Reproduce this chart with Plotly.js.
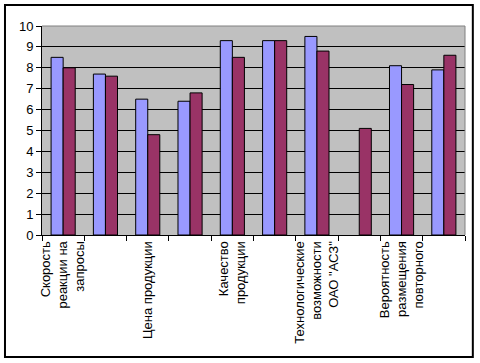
<!DOCTYPE html>
<html>
<head>
<meta charset="utf-8">
<script src="https://cdn.plot.ly/plotly-3.0.1.min.js"></script>
<style>
  html, body { margin: 0; padding: 0; background: #ffffff; }
  #chart { width: 480px; height: 363px; }
</style>
</head>
<body>
<div id="chart"></div>
<script>
// Category positions (10 groups) and their labels (Excel shows every other label)
const categories = [0, 1, 2, 3, 4, 5, 6, 7, 8, 9];
const categoryLabels = [
  "Скорость<br>реакции на<br>запросы",
  "",
  "Цена продукции",
  "",
  "Качество<br>продукции",
  "",
  "Технологические<br>возможности<br>ОАО \"АСЗ\"",
  "",
  "Вероятность<br>размещения<br>повторного",
  ""
];
const series1 = [8.5, 7.7, 6.5, 6.4, 9.3, 9.3, 9.5, null, 8.1, 7.9];
const series2 = [8.0, 7.6, 4.8, 6.8, 8.5, 9.3, 8.8, 5.1, 7.2, 8.6];
const yTicks = [0, 1, 2, 3, 4, 5, 6, 7, 8, 9, 10];

const font = { family: "Liberation Sans, Arial, sans-serif", size: 13, color: "#000000" };

const traces = [
  {
    type: "bar", name: "Ряд1", x: categories, y: series1,
    marker: { color: "#9999FF", line: { color: "#000000", width: 1 } },
    hoverinfo: "y"
  },
  {
    type: "bar", name: "Ряд2", x: categories, y: series2,
    marker: { color: "#993366", line: { color: "#000000", width: 1 } },
    hoverinfo: "y"
  }
];

const layout = {
  width: 480, height: 363,
  margin: { l: 42, r: 15, t: 26, b: 128, pad: 0 },
  paper_bgcolor: "#ffffff",
  plot_bgcolor: "#C0C0C0",
  showlegend: false,
  barmode: "group",
  bargap: 0.43,
  bargroupgap: 0,
  font: font,
  xaxis: {
    type: "category",
    tickmode: "array",
    tickvals: categories,
    ticktext: categoryLabels,
    tickangle: -90,
    tickson: "boundaries",
    ticks: "outside",
    ticklen: 5,
    tickcolor: "#000000",
    tickwidth: 1,
    showline: true,
    linecolor: "#000000",
    linewidth: 1,
    showgrid: false,
    zeroline: false,
    tickfont: font,
    fixedrange: true
  },
  yaxis: {
    range: [0, 10],
    tickmode: "array",
    tickvals: yTicks,
    ticktext: yTicks.map(String),
    ticks: "outside",
    ticklen: 5,
    tickcolor: "#000000",
    tickwidth: 1,
    showline: true,
    linecolor: "#000000",
    linewidth: 1,
    showgrid: true,
    gridcolor: "#000000",
    gridwidth: 1,
    zeroline: false,
    tickfont: font,
    fixedrange: true
  },
  shapes: [
    { type: "line", xref: "paper", yref: "paper", x0: 0, x1: 1, y0: 1, y1: 1,
      line: { color: "#808080", width: 1 } },
    { type: "line", xref: "paper", yref: "paper", x0: 1, x1: 1, y0: 0, y1: 1,
      line: { color: "#808080", width: 1 } },
    { type: "rect", xref: "paper", yref: "paper",
      x0: -0.0875, x1: 1.0185, y0: -0.5835, y1: 1.1,
      line: { color: "#000000", width: 2 }, fillcolor: "rgba(0,0,0,0)" }
  ]
};

Plotly.newPlot("chart", traces, layout, { displayModeBar: false, staticPlot: true });
</script>
</body>
</html>
